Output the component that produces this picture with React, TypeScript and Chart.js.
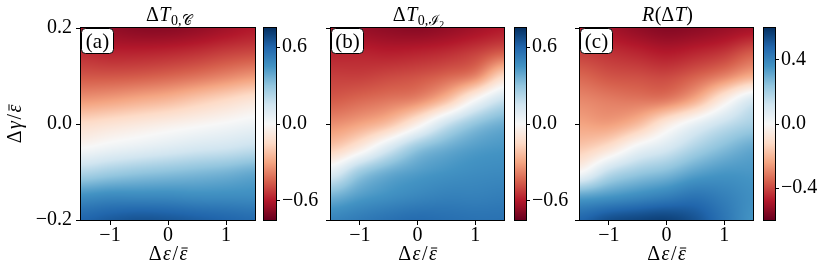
import React, { useEffect, useRef } from 'react';
import { Chart, registerables } from 'chart.js';

Chart.register(...registerables);

// ---------------- data ----------------
const X_NODES = [-1.5, -1, -0.5, 0, 0.5, 1, 1.5];
const Y_NODES = [0.2, 0.15, 0.1, 0.05, 0, -0.05, -0.1, -0.15, -0.2];

// rows follow Y_NODES (top to bottom), columns follow X_NODES
const GRID_A = [
  [-0.63, -0.66, -0.68, -0.68, -0.66, -0.63, -0.6],
  [-0.56, -0.58, -0.58, -0.57, -0.55, -0.52, -0.5],
  [-0.47, -0.47, -0.46, -0.44, -0.41, -0.37, -0.33],
  [-0.33, -0.31, -0.28, -0.25, -0.2, -0.15, -0.1],
  [-0.14, -0.11, -0.08, -0.05, -0.02, 0.01, 0.04],
  [0.0, 0.04, 0.07, 0.1, 0.13, 0.15, 0.18],
  [0.22, 0.26, 0.29, 0.31, 0.33, 0.35, 0.38],
  [0.46, 0.48, 0.48, 0.48, 0.47, 0.47, 0.47],
  [0.6, 0.63, 0.65, 0.64, 0.62, 0.6, 0.58],
];

const GRID_B = [
  [-0.62, -0.65, -0.67, -0.68, -0.66, -0.63, -0.6],
  [-0.58, -0.58, -0.59, -0.58, -0.56, -0.52, -0.46],
  [-0.52, -0.52, -0.5, -0.48, -0.44, -0.37, -0.15],
  [-0.46, -0.43, -0.4, -0.36, -0.23, 0.0, 0.17],
  [-0.35, -0.3, -0.22, -0.05, 0.16, 0.3, 0.37],
  [-0.2, -0.07, 0.12, 0.29, 0.37, 0.42, 0.44],
  [0.08, 0.27, 0.37, 0.42, 0.45, 0.47, 0.48],
  [0.35, 0.42, 0.46, 0.49, 0.51, 0.51, 0.52],
  [0.5, 0.53, 0.56, 0.58, 0.57, 0.56, 0.56],
];

const GRID_C = [
  [-0.48, -0.5, -0.53, -0.55, -0.54, -0.52, -0.5],
  [-0.42, -0.44, -0.46, -0.48, -0.46, -0.43, -0.37],
  [-0.35, -0.38, -0.39, -0.4, -0.36, -0.3, -0.22],
  [-0.29, -0.31, -0.32, -0.31, -0.22, -0.05, 0.1],
  [-0.24, -0.25, -0.19, -0.06, 0.05, 0.14, 0.2],
  [-0.16, -0.09, 0.03, 0.1, 0.19, 0.26, 0.31],
  [0.0, 0.15, 0.22, 0.26, 0.32, 0.35, 0.35],
  [0.32, 0.35, 0.38, 0.41, 0.44, 0.41, 0.37],
  [0.48, 0.53, 0.55, 0.56, 0.52, 0.44, 0.36],
];

const X_MIN = -1.5;
const X_MAX = 1.5;
const Y_MIN = -0.2;
const Y_MAX = 0.2;
const X_TICKS = [-1, 0, 1];
const Y_TICKS = [-0.2, 0, 0.2];
const CB_LIMITS = [0.75, 0.75, 0.6];
const CB_TICKS_AB = [-0.6, 0, 0.6];
const CB_TICKS_C = [-0.4, 0, 0.4];

const PANEL_LABELS = ['(a)', '(b)', '(c)'];

type Piece = { t: string; it?: boolean; sub?: number; bar?: boolean };
const TITLE_A: Piece[] = [{ t: 'Δ' }, { t: 'T', it: true }, { t: '0,', sub: 1 }, { t: '𝒞', sub: 1 }];
const TITLE_B: Piece[] = [{ t: 'Δ' }, { t: 'T', it: true }, { t: '0,', sub: 1 }, { t: 'ℐ', sub: 1 }, { t: '2', sub: 2 }];
const TITLE_C: Piece[] = [{ t: 'R', it: true }, { t: '(Δ' }, { t: 'T', it: true }, { t: ')' }];
const X_LABEL: Piece[] = [{ t: 'Δ' }, { t: 'ε', it: true }, { t: '/' }, { t: 'ε', it: true, bar: true }];
const Y_LABEL: Piece[] = [{ t: 'Δ' }, { t: 'γ', it: true }, { t: '/' }, { t: 'ε', it: true, bar: true }];

// ---------------- layout / style ----------------
const FIG_W = 830;
const FIG_H = 278;
const PLOT_TOP = 28;
const PLOT_BOTTOM = 220;
const PANELS = [
  { left: 81, right: 255, cbLeft: 264, cbRight: 276 },
  { left: 331, right: 504, cbLeft: 515, cbRight: 526 },
  { left: 580, right: 753, cbLeft: 764, cbRight: 775 },
];
const CB_AXIS_W = 50;
const FAMILY = '"Liberation Serif", "DejaVu Serif", serif';
const TICK_FONT = { family: FAMILY, size: 20 };

const RDBU = [
  [103, 0, 31], [178, 24, 43], [214, 96, 77], [244, 165, 130], [253, 219, 199],
  [247, 247, 247], [209, 229, 240], [146, 197, 222], [67, 147, 195], [33, 102, 172], [5, 48, 97],
];

function cmap(t: number): number[] {
  const tt = Math.max(0, Math.min(1, t));
  const s = tt * 10;
  const i = Math.min(9, Math.floor(s));
  const f = s - i;
  return RDBU[i].map((c, k) => c + (RDBU[i + 1][k] - c) * f);
}

function fmt(v: number, d: number) {
  const s = Number(v).toFixed(d);
  return s.startsWith('-') ? '−' + s.slice(1) : s;
}

function drawRich(ctx: CanvasRenderingContext2D, pieces: Piece[], cx: number, baseline: number, size: number, gap = 0) {
  const fontFor = (p: Piece) => {
    const sz = size * Math.pow(0.7, p.sub || 0);
    return `${p.it ? 'italic ' : ''}${sz.toFixed(1)}px ${FAMILY}`;
  };
  const offFor = (p: Piece) => (p.sub === 1 ? size * 0.22 : p.sub === 2 ? size * 0.34 : 0);
  let total = 0;
  const widths = pieces.map((p) => {
    ctx.font = fontFor(p);
    const w = ctx.measureText(p.t).width + gap;
    total += w;
    return w;
  });
  total -= gap;
  let x = cx - total / 2;
  ctx.textAlign = 'left';
  ctx.textBaseline = 'alphabetic';
  ctx.fillStyle = '#000';
  ctx.strokeStyle = '#000';
  pieces.forEach((p, i) => {
    ctx.font = fontFor(p);
    const y = baseline + offFor(p);
    ctx.fillText(p.t, x, y);
    if (p.bar) {
      const w = widths[i] - gap;
      ctx.lineWidth = 1;
      ctx.beginPath();
      ctx.moveTo(x + w * 0.25, y - size * 0.6);
      ctx.lineTo(x + w * 1.05, y - size * 0.6);
      ctx.stroke();
    }
    x += widths[i];
  });
}

function nodesFrom(grid: number[][]) {
  const out: { x: number; y: number; v: number }[] = [];
  Y_NODES.forEach((y, r) => X_NODES.forEach((x, c) => out.push({ x, y, v: grid[r][c] })));
  return out;
}

function cubic(p0: number, p1: number, p2: number, p3: number, t: number) {
  return p1 + 0.5 * t * (p2 - p0 + t * (2 * p0 - 5 * p1 + 4 * p2 - p3 + t * (3 * (p1 - p2) + p3 - p0)));
}

function heatmapPlugin(limit: number) {
  return {
    id: 'heatmap',
    beforeDatasetsDraw(chart: any) {
      const { ctx, chartArea: ca, scales } = chart;
      const pts = chart.data.datasets[0].data;
      const nx = X_NODES.length;
      const ny = Y_NODES.length;
      const px0 = scales.x.getPixelForValue(pts[0].x);
      const pxStep = scales.x.getPixelForValue(pts[1].x) - px0;
      const py0 = scales.y.getPixelForValue(pts[0].y);
      const pyStep = scales.y.getPixelForValue(pts[nx].y) - py0;
      const val = (r: number, c: number) => {
        const rr = Math.max(0, Math.min(ny - 1, r));
        const cc = Math.max(0, Math.min(nx - 1, c));
        return pts[rr * nx + cc].v;
      };
      const L = Math.round(ca.left);
      const T = Math.round(ca.top);
      const W = Math.round(ca.right) - L;
      const H = Math.round(ca.bottom) - T;
      const off = document.createElement('canvas');
      off.width = W;
      off.height = H;
      const octx = off.getContext('2d')!;
      const img = octx.createImageData(W, H);
      for (let j = 0; j < H; j++) {
        const fyAll = Math.max(0, Math.min(ny - 1, (T + j + 0.5 - py0) / pyStep));
        const r = Math.min(ny - 2, Math.floor(fyAll));
        const fy = fyAll - r;
        for (let i = 0; i < W; i++) {
          const fxAll = Math.max(0, Math.min(nx - 1, (L + i + 0.5 - px0) / pxStep));
          const c = Math.min(nx - 2, Math.floor(fxAll));
          const fx = fxAll - c;
          const rows: number[] = [];
          for (let k = -1; k <= 2; k++) {
            rows.push(cubic(val(r + k, c - 1), val(r + k, c), val(r + k, c + 1), val(r + k, c + 2), fx));
          }
          const v = cubic(rows[0], rows[1], rows[2], rows[3], fy);
          const col = cmap((v + limit) / (2 * limit));
          const idx = (j * W + i) * 4;
          img.data[idx] = col[0];
          img.data[idx + 1] = col[1];
          img.data[idx + 2] = col[2];
          img.data[idx + 3] = 255;
        }
      }
      octx.putImageData(img, 0, 0);
      ctx.drawImage(off, L, T);
    },
  };
}

function colorbarPlugin(limit: number) {
  return {
    id: 'colorbar',
    beforeDatasetsDraw(chart: any) {
      const { ctx, chartArea: ca, scales } = chart;
      const T = Math.round(ca.top);
      const B = Math.round(ca.bottom);
      for (let y = T; y < B; y++) {
        const v = scales.y.getValueForPixel(y + 0.5);
        const c = cmap((v + limit) / (2 * limit));
        ctx.fillStyle = `rgb(${c[0]},${c[1]},${c[2]})`;
        ctx.fillRect(ca.left, y, ca.right - ca.left, 1);
      }
    },
  };
}

const framePlugin = {
  id: 'frame',
  afterDatasetsDraw(chart: any) {
    const { ctx, chartArea: ca } = chart;
    ctx.save();
    ctx.strokeStyle = '#000';
    ctx.lineWidth = 1;
    ctx.strokeRect(Math.round(ca.left) - 0.5, Math.round(ca.top) - 0.5, Math.round(ca.right - ca.left) + 1, Math.round(ca.bottom - ca.top) + 1);
    ctx.restore();
  },
};

function textPlugin(title: Piece[], label: string, showYLabel: boolean) {
  return {
    id: 'texts',
    afterDraw(chart: any) {
      const { ctx, chartArea: ca } = chart;
      const cx = (ca.left + ca.right) / 2;
      ctx.save();
      drawRich(ctx, title, cx + 1, ca.top - 7, 20, 0.5);
      drawRich(ctx, X_LABEL, cx, 260, 20, 1.5);
      if (showYLabel) {
        ctx.save();
        ctx.translate(21, (ca.top + ca.bottom) / 2);
        ctx.rotate(-Math.PI / 2);
        drawRich(ctx, Y_LABEL, 0, 0, 20, 1.5);
        ctx.restore();
      }
      // panel label box
      const bx = Math.round(ca.left) + 0.5;
      const by = Math.round(ca.top) + 0.5;
      const bw = 32;
      const bh = 25;
      ctx.beginPath();
      ctx.roundRect(bx, by, bw, bh, 4);
      ctx.fillStyle = '#fff';
      ctx.fill();
      ctx.strokeStyle = '#000';
      ctx.lineWidth = 1;
      ctx.stroke();
      ctx.fillStyle = '#000';
      ctx.font = `21px ${FAMILY}`;
      ctx.textAlign = 'center';
      ctx.textBaseline = 'middle';
      ctx.fillText(label, bx + bw / 2, by + bh / 2 + 1);
      ctx.restore();
    },
  };
}

const GRIDS = [GRID_A, GRID_B, GRID_C];
const TITLES = [TITLE_A, TITLE_B, TITLE_C];
const CB_TICKS = [CB_TICKS_AB, CB_TICKS_AB, CB_TICKS_C];

function heatmapConfig(idx: number): any {
  const p = PANELS[idx];
  const showY = idx === 0;
  const yW = showY ? p.left : 11;
  return {
    type: 'scatter',
    data: { datasets: [{ data: nodesFrom(GRIDS[idx]), pointRadius: 0, pointHoverRadius: 0 }] },
    options: {
      animation: false,
      responsive: false,
      devicePixelRatio: 1,
      events: [],
      layout: { padding: { left: p.left - yW, right: FIG_W - p.right, top: PLOT_TOP, bottom: 0 } },
      plugins: { legend: { display: false }, tooltip: { enabled: false } },
      scales: {
        x: {
          type: 'linear',
          min: X_MIN,
          max: X_MAX,
          afterBuildTicks: (s: any) => {
            s.ticks = X_TICKS.map((v) => ({ value: v }));
          },
          afterFit: (s: any) => {
            s.height = FIG_H - PLOT_BOTTOM;
          },
          ticks: { callback: (v: number) => fmt(v, 0), font: TICK_FONT, color: '#000', padding: -1, maxRotation: 0, autoSkip: false },
          grid: { drawOnChartArea: false, drawTicks: true, tickLength: 5, color: '#000', lineWidth: 1 },
          border: { display: false },
        },
        y: {
          type: 'linear',
          min: Y_MIN,
          max: Y_MAX,
          afterBuildTicks: (s: any) => {
            s.ticks = Y_TICKS.map((v) => ({ value: v }));
          },
          afterFit: (s: any) => {
            s.width = yW;
          },
          ticks: { callback: (v: number) => (showY ? fmt(v, 1) : ''), font: TICK_FONT, color: '#000', padding: 4, autoSkip: false },
          grid: { drawOnChartArea: false, drawTicks: true, tickLength: 5, color: '#000', lineWidth: 1 },
          border: { display: false },
        },
      },
    },
    plugins: [heatmapPlugin(CB_LIMITS[idx]), framePlugin, textPlugin(TITLES[idx], PANEL_LABELS[idx], showY)],
  };
}

function colorbarConfig(idx: number): any {
  const p = PANELS[idx];
  const lim = CB_LIMITS[idx];
  return {
    type: 'scatter',
    data: { datasets: [{ data: [] }] },
    options: {
      animation: false,
      responsive: false,
      devicePixelRatio: 1,
      events: [],
      layout: { padding: { left: p.cbLeft, right: FIG_W - p.cbRight - CB_AXIS_W, top: PLOT_TOP, bottom: FIG_H - PLOT_BOTTOM } },
      plugins: { legend: { display: false }, tooltip: { enabled: false } },
      scales: {
        x: { type: 'linear', display: false, min: 0, max: 1 },
        y: {
          type: 'linear',
          position: 'right',
          min: -lim,
          max: lim,
          afterBuildTicks: (s: any) => {
            s.ticks = CB_TICKS[idx].map((v) => ({ value: v }));
          },
          afterFit: (s: any) => {
            s.width = CB_AXIS_W;
          },
          ticks: { callback: (v: number) => fmt(v, 1), font: TICK_FONT, color: '#000', padding: 2, autoSkip: false },
          grid: { drawOnChartArea: false, drawTicks: true, tickLength: 4, color: '#000', lineWidth: 1 },
          border: { display: false },
        },
      },
    },
    plugins: [colorbarPlugin(lim), framePlugin],
  };
}

function ChartCanvas({ make }: { make: () => any }) {
  const ref = useRef<HTMLCanvasElement>(null);
  useEffect(() => {
    const chart = new Chart(ref.current as HTMLCanvasElement, make());
    return () => chart.destroy();
  }, []);
  return (
    <canvas
      ref={ref}
      width={FIG_W}
      height={FIG_H}
      style={{ position: 'absolute', left: 0, top: 0, width: FIG_W, height: FIG_H }}
    />
  );
}

export default function App() {
  return (
    <div style={{ position: 'absolute', left: 0, top: 0, width: FIG_W, height: FIG_H, background: '#fff' }}>
      {[0, 1, 2].map((i) => (
        <React.Fragment key={i}>
          <ChartCanvas make={() => heatmapConfig(i)} />
          <ChartCanvas make={() => colorbarConfig(i)} />
        </React.Fragment>
      ))}
    </div>
  );
}
